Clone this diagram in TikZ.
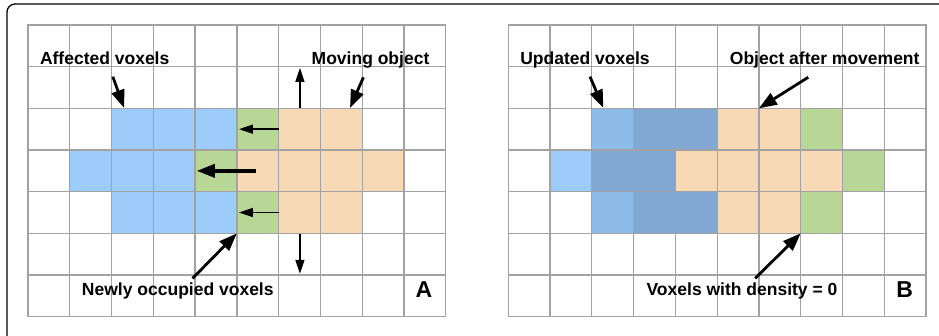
\documentclass[tikz,border=0pt]{standalone}
\usepackage{fontspec}
\setmainfont{Liberation Sans}
\usetikzlibrary{arrows.meta}

\definecolor{gridgray}{HTML}{A2A2A2}
\definecolor{voxblue}{HTML}{9ECCFA}
\definecolor{voxgreen}{HTML}{B8D695}
\definecolor{voxpeach}{HTML}{F7D9B5}
\definecolor{updblue}{HTML}{8DBCE8}
\definecolor{upddark}{HTML}{80A8D3}

\tikzset{
  gridline/.style={draw=gridgray, line width=1.3pt, line cap=rect},
  cellfill/.style={fill=#1, draw=none},
  lbl/.style={anchor=base, inner sep=0pt, font=\fontsize{17.5}{20}\selectfont\bfseries},
  panellbl/.style={anchor=base, inner sep=0pt, font=\fontsize{23}{26}\selectfont\bfseries},
  thinarrow/.style={line width=1.4pt, -{Triangle[length=14pt,width=9pt]}},
  midarrow/.style={line width=3.5pt, -{Triangle[length=18pt,width=13pt]}},
  callout/.style={line width=2.8pt, -{Triangle[length=18pt,width=13pt]}},
  frameline/.style={line width=1.3pt, rounded corners=8pt},
}

% a 10 x 7 voxel grid in cell units
\newcommand{\voxelgrid}{%
  \foreach \gx in {0,...,10} \draw[gridline] (\gx,0) -- (\gx,7);
  \foreach \gy in {0,...,7} \draw[gridline] (0,\gy) -- (10,\gy);
}

\begin{document}
\begin{tikzpicture}[x=1pt, y=-1pt]
\useasboundingbox (0,0) rectangle (939,336);

% outer frame (open at right and bottom)
\draw[frameline] (7,337) -- (7,4) -- (941,4);

% ---------------- Panel A ----------------
\begin{scope}[shift={(28,25)}, x=41.77pt, y=-41.67pt]
  \foreach \c/\r in {2/2,3/2,4/2,1/3,2/3,3/3,2/4,3/4,4/4}
    \fill[cellfill=voxblue] (\c,\r) rectangle ++(1,1);
  \foreach \c/\r in {5/2,4/3,5/4}
    \fill[cellfill=voxgreen] (\c,\r) rectangle ++(1,1);
  \foreach \c/\r in {6/2,7/2,5/3,6/3,7/3,8/3,6/4,7/4}
    \fill[cellfill=voxpeach] (\c,\r) rectangle ++(1,1);
  \voxelgrid

  % motion arrows
  \coordinate (aTopS) at (6,2.5);   \coordinate (aTopE) at (5.05,2.5);
  \coordinate (aMidS) at (5.47,3.5); \coordinate (aMidE) at (4.04,3.5);
  \coordinate (aBotS) at (6,4.5);   \coordinate (aBotE) at (5.05,4.5);
  \coordinate (aUpS) at (6.51,2);   \coordinate (aUpE) at (6.51,1.03);
  \coordinate (aDnS) at (6.51,5.02); \coordinate (aDnE) at (6.51,5.97);
  \draw[thinarrow] (aTopS) -- (aTopE);
  \draw[midarrow]  (aMidS) -- (aMidE);
  \draw[thinarrow] (aBotS) -- (aBotE);
  \draw[thinarrow] (aUpS) -- (aUpE);
  \draw[thinarrow] (aDnS) -- (aDnE);

  % labels and callouts
  \node[lbl] (affected) at (1.836,0.96) {Affected voxels};
  \node[lbl] (moving) at (8.2,0.96) {Moving object};
  \node[lbl] (newly) at (3.586,6.48) {Newly occupied voxels};
  \node[panellbl] (panelA) at (9.48,6.54) {A};

  \coordinate (affS) at (2.03,1.24);  \coordinate (affE) at (2.30,1.99);
  \coordinate (movS) at (8.03,1.255); \coordinate (movE) at (7.71,1.99);
  \coordinate (newS) at (3.94,6.08);  \coordinate (newE) at (5,5);
  \draw[callout] (affS) -- (affE);
  \draw[callout] (movS) -- (movE);
  \draw[callout] (newS) -- (newE);
\end{scope}

% ---------------- Panel B ----------------
\begin{scope}[shift={(508.3,25)}, x=41.77pt, y=-41.67pt]
  \fill[cellfill=voxblue] (1,3) rectangle ++(1,1);
  \foreach \c/\r in {2/2,2/4}
    \fill[cellfill=updblue] (\c,\r) rectangle ++(1,1);
  \foreach \c/\r in {3/2,4/2,2/3,3/3,3/4,4/4}
    \fill[cellfill=upddark] (\c,\r) rectangle ++(1,1);
  \foreach \c/\r in {5/2,6/2,4/3,5/3,6/3,7/3,5/4,6/4}
    \fill[cellfill=voxpeach] (\c,\r) rectangle ++(1,1);
  \foreach \c/\r in {7/2,8/3,7/4}
    \fill[cellfill=voxgreen] (\c,\r) rectangle ++(1,1);
  \voxelgrid

  \node[lbl] (updated) at (1.836,0.96) {Updated voxels};
  \node[lbl] (after) at (7.575,0.96) {Object after movement};
  \node[lbl] (density) at (5.595,6.48) {Voxels with density = 0};
  \node[panellbl] (panelB) at (9.49,6.54) {B};

  \coordinate (updS) at (1.956,1.24); \coordinate (updE) at (2.275,1.99);
  \coordinate (aftS) at (7.18,1.255); \coordinate (aftE) at (6,2);
  \coordinate (denS) at (5.91,6.08);  \coordinate (denE) at (7,5);
  \draw[callout] (updS) -- (updE);
  \draw[callout] (aftS) -- (aftE);
  \draw[callout] (denS) -- (denE);
\end{scope}
\end{tikzpicture}
\end{document}
